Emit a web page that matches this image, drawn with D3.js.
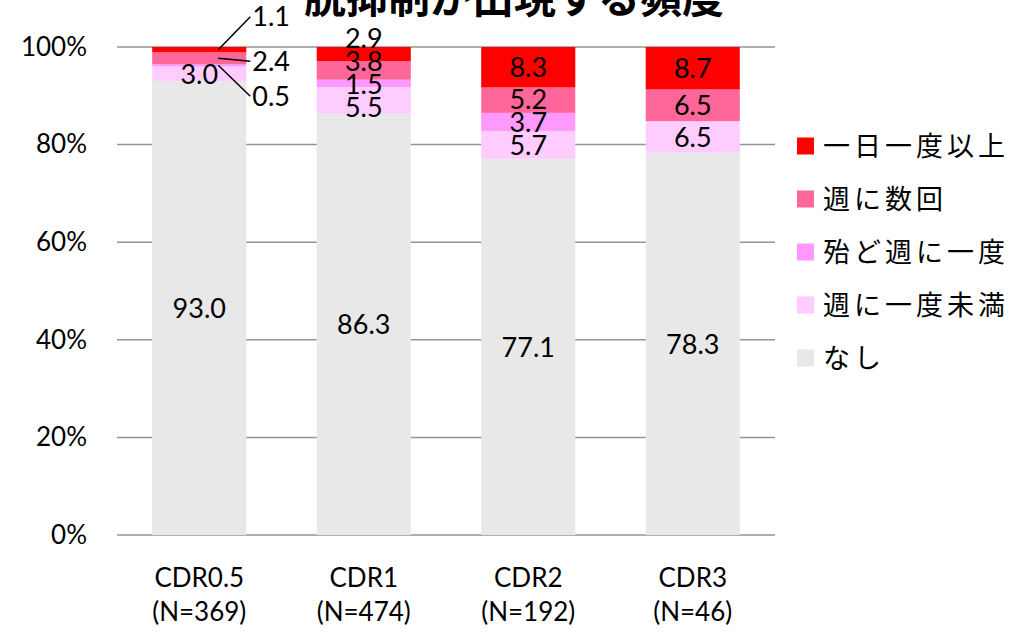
<!DOCTYPE html>
<html><head><meta charset="utf-8">
<script src="https://cdn.jsdelivr.net/npm/d3@7"></script>
<style>body{margin:0;background:#fff;}svg{display:block;}</style>
</head><body>
<svg id="c" width="1014" height="632"></svg>
<script>
const title = "脱抑制が出現する頻度";
const categories = ["CDR0.5", "CDR1", "CDR2", "CDR3"];
const sampleSizes = ["(N=369)", "(N=474)", "(N=192)", "(N=46)"];
// stack order bottom -> top
const seriesNames = ["なし", "週に一度未満", "殆ど週に一度", "週に数回", "一日一度以上"];
const seriesColors = ["#E8E8E8", "#FFCCFF", "#FF99FF", "#FF6699", "#FF0000"];
const noneValues = [93.0, 86.3, 77.1, 78.3];
const lessWeeklyValues = [3.0, 5.5, 5.7, 6.5];
const almostWeeklyValues = [0.5, 1.5, 3.7, 0];
const severalWeeklyValues = [2.4, 3.8, 5.2, 6.5];
const dailyValues = [1.1, 2.9, 8.3, 8.7];
const yTicks = [0, 20, 40, 60, 80, 100];

const seriesValues = [noneValues, lessWeeklyValues, almostWeeklyValues, severalWeeklyValues, dailyValues];
const rows = categories.map((c, i) => {
  const r = {cat: c};
  seriesNames.forEach((s, k) => r[s] = seriesValues[k][i]);
  return r;
});

const svg = d3.select("#c");
const latin = "Lato, 'Noto Sans', sans-serif";
const cjk = "'Noto Sans CJK JP', sans-serif";

const x = d3.scaleBand().domain(categories).range([117, 775]);
const barW = x.bandwidth() * 0.572;
const y = d3.scaleLinear().domain([0, 100]).range([535, 47]);

// gridlines
svg.append("g").selectAll("line").data(yTicks).join("line")
  .attr("x1", 117).attr("x2", 775)
  .attr("y1", d => y(d)).attr("y2", d => y(d))
  .attr("stroke", "#959595").attr("stroke-width", 1.5);

// y tick labels via axis
const yAxis = svg.append("g").attr("transform", "translate(117,0)")
  .call(d3.axisLeft(y).tickValues(yTicks).tickFormat(d => d + "%").tickSize(0).tickPadding(30));
yAxis.select(".domain").remove();
yAxis.selectAll("text").attr("font-family", latin).attr("font-size", 26).attr("fill", "#000");

const stack = d3.stack().keys(seriesNames)(rows);

const gBars = svg.append("g");
stack.forEach((layer, k) => {
  gBars.selectAll(null).data(layer).join("rect")
    .attr("x", d => x(d.data.cat) + (x.bandwidth() - barW) / 2)
    .attr("width", barW)
    .attr("y", d => y(d[1]))
    .attr("height", d => y(d[0]) - y(d[1]))
    .attr("fill", seriesColors[k]);
});

// labels
const outsideCat = "CDR0.5";
const outsideKeys = ["殆ど週に一度", "週に数回", "一日一度以上"];
const outsideShift = {"一日一度以上": -33, "週に数回": 3, "殆ど週に一度": 31};
const gLab = svg.append("g");
categories.forEach((cat, i) => {
  const cx = x(cat) + x.bandwidth() / 2;
  const items = [];
  stack.forEach((layer, k) => {
    const d = layer[i];
    const v = d[1] - d[0];
    if (v <= 0) return;
    const mid = (y(d[0]) + y(d[1])) / 2;
    const key = seriesNames[k];
    if (cat === outsideCat && outsideKeys.includes(key)) {
      const ly = mid + outsideShift[key];
      const lx = x(cat) + (x.bandwidth() + barW) / 2 + 5;
      gLab.append("line").attr("x1", cx + 19).attr("y1", mid)
        .attr("x2", lx - 1).attr("y2", ly).attr("stroke", "#000").attr("stroke-width", 1.5);
      gLab.append("text").attr("x", lx + 1).attr("y", ly).attr("dy", "0.36em")
        .attr("font-family", latin).attr("font-size", 27).text(d3.format(".1f")(seriesValues[k][i]));
    } else {
      items.push({y: mid, v: seriesValues[k][i]});
    }
  });
  // simple overlap relaxation, pushing crowded labels slightly upward
  items.sort((a, b) => a.y - b.y);
  const gap = 23;
  let crowded = false;
  for (let it = 0; it < 100; it++) {
    for (let j = 1; j < items.length; j++) {
      const ov = gap - (items[j].y - items[j - 1].y);
      if (ov > 0.01) { crowded = true; items[j].y += ov / 2; items[j - 1].y -= ov / 2; }
    }
  }
  items.forEach((o, j) => {
    const shift = (crowded && j < items.length - 1 && i === 1) ? -4 : 0;
    gLab.append("text").attr("x", cx).attr("y", o.y + shift).attr("dy", "0.36em")
      .attr("text-anchor", "middle").attr("font-family", latin).attr("font-size", 27)
      .text(d3.format(".1f")(o.v));
  });
});

// x labels
const gx = svg.append("g");
categories.forEach((cat, i) => {
  const cx = x(cat) + x.bandwidth() / 2;
  gx.append("text").attr("x", cx).attr("y", 578).attr("dy", "0.36em").attr("text-anchor", "middle")
    .attr("font-family", latin).attr("font-size", 26).text(cat);
  gx.append("text").attr("x", cx).attr("y", 612).attr("dy", "0.36em").attr("text-anchor", "middle")
    .attr("font-family", latin).attr("font-size", 26).text(sampleSizes[i]);
});

// legend (top -> bottom reversed)
const legendOrder = d3.range(seriesNames.length).reverse();
const lg = svg.append("g");
legendOrder.forEach((k, j) => {
  const cy = 146 + j * 53;
  lg.append("rect").attr("x", 797).attr("y", cy - 8.5).attr("width", 17).attr("height", 17).attr("fill", seriesColors[k]);
  lg.append("text").attr("x", 823).attr("y", cy).attr("dy", "0.36em")
    .attr("font-family", cjk).attr("font-size", 27).attr("letter-spacing", 4).text(seriesNames[k]);
});

// title (partially clipped at top, like the reference)
svg.append("text").attr("x", 514).attr("y", 13).attr("text-anchor", "middle")
  .attr("font-family", cjk).attr("font-weight", "bold").attr("font-size", 42).text(title);
</script>
</body></html>
